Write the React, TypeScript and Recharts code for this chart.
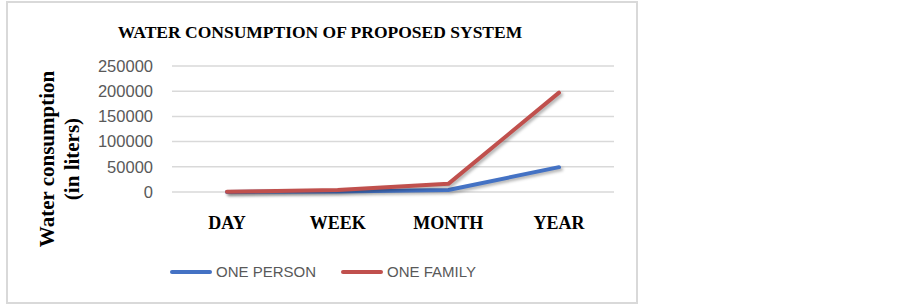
import { LineChart, Line, XAxis, YAxis, CartesianGrid } from 'recharts';

const periods = ['DAY', 'WEEK', 'MONTH', 'YEAR'];
const onePerson = [135, 945, 4050, 49275];
const oneFamily = [540, 3780, 16200, 197100];
const yTicks = [0, 50000, 100000, 150000, 200000, 250000];

const series = [
  { key: 'person', name: 'ONE PERSON', color: '#4472C4' },
  { key: 'family', name: 'ONE FAMILY', color: '#C0504D' },
];

const data = periods.map((p, i) => ({ period: p, person: onePerson[i], family: oneFamily[i] }));

const serif = '"Liberation Serif", "Times New Roman", serif';
const sans = '"Liberation Sans", Arial, sans-serif';

const App = () => {
  return (
    <div style={{ position: 'absolute', left: 0, top: 0, width: 903, height: 304, background: '#fff' }}>
      <div
        style={{
          position: 'absolute', left: 6, top: 1, width: 628, height: 299,
          border: '2px solid #d9d9d9', boxSizing: 'content-box',
        }}
      />
      <div
        style={{
          position: 'absolute', left: 0, top: 22, width: 640, textAlign: 'center',
          fontFamily: serif, fontWeight: 'bold', fontSize: 17.5, color: '#000',
        }}
      >
        WATER CONSUMPTION OF PROPOSED SYSTEM
      </div>
      <div
        style={{
          position: 'absolute', left: 60, top: 160, width: 240, marginLeft: -120, marginTop: -26,
          transform: 'rotate(-90deg)', textAlign: 'center', fontFamily: serif, fontWeight: 'bold',
          fontSize: 21, lineHeight: '25px', color: '#000',
        }}
      >
        Water consumption
        <br />
        (in liters)
      </div>
      <div style={{ position: 'absolute', left: 0, top: 0 }}>
        <LineChart width={903} height={304} data={data} margin={{ top: 66, right: 289, left: 100, bottom: 71 }}>
          <CartesianGrid vertical={false} stroke="#d9d9d9" strokeWidth={1.5} />
          <XAxis
            dataKey="period"
            axisLine={false}
            tickLine={false}
            tickSize={0}
            tickMargin={24}
            height={41}
            interval={0}
            padding={{ left: 55, right: 55 }}
            tick={{ fill: '#000', fontFamily: serif, fontWeight: 'bold', fontSize: 18 }}
          />
          <YAxis
            width={72}
            domain={[0, 250000]}
            ticks={yTicks}
            interval={0}
            axisLine={false}
            tickLine={false}
            tickSize={0}
            tickMargin={19}
            tick={{ fill: '#595959', fontFamily: sans, fontSize: 16.5 }}
          />
          {series.map((s) => (
            <Line
              key={s.key}
              type="linear"
              dataKey={s.key}
              name={s.name}
              stroke={s.color}
              strokeWidth={4}
              strokeLinecap="round"
              strokeLinejoin="round"
              dot={false}
              activeDot={false}
              isAnimationActive={false}
              style={{ filter: 'drop-shadow(2px 2px 1.5px rgba(0,0,0,0.3))' }}
            />
          ))}
        </LineChart>
      </div>
      <div
        style={{
          position: 'absolute', left: 170, top: 262, display: 'flex', alignItems: 'center',
          fontFamily: sans, fontSize: 15, color: '#595959', lineHeight: '20px',
        }}
      >
        {series.map((s) => (
          <div key={s.key} style={{ display: 'flex', alignItems: 'center', marginRight: 25 }}>
            <div style={{ width: 42, height: 4, borderRadius: 2, background: s.color, marginRight: 4 }} />
            <span>{s.name}</span>
          </div>
        ))}
      </div>
    </div>
  );
};

export default App;
